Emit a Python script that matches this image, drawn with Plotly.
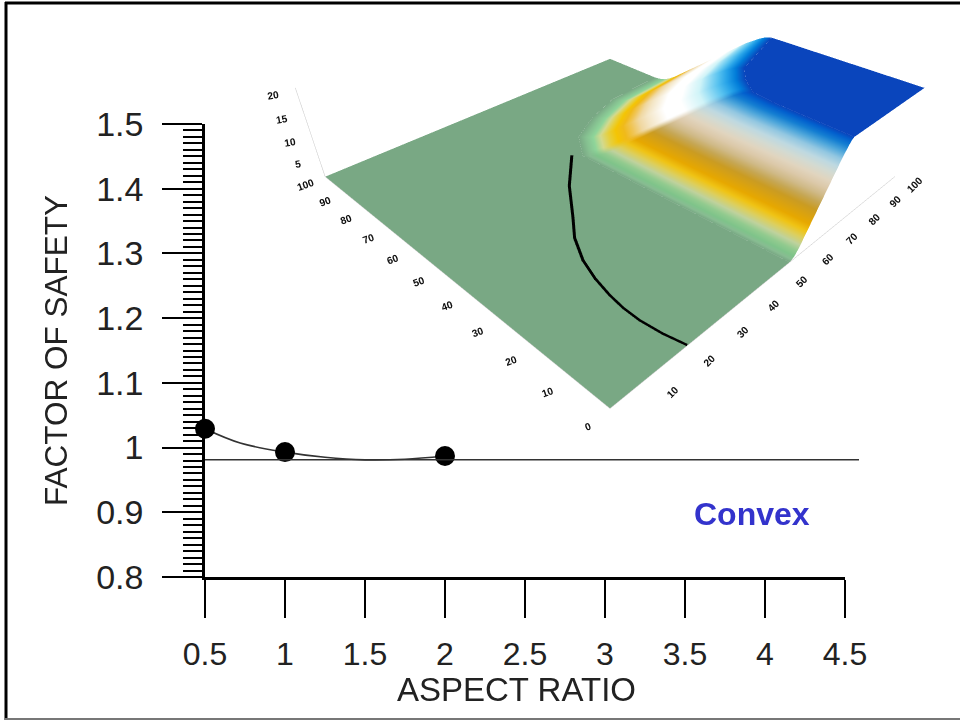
import numpy as np
import plotly.graph_objects as go

# --- 2D chart data
aspect_pts = [0.5, 1, 2]
fos_pts = [1.029, 0.993, 0.987]
curve_x = [0.5, 0.72, 1, 1.25, 1.5, 1.75, 2]
curve_y = [1.029, 1.007, 0.993, 0.985, 0.981, 0.982, 0.987]
ref_x = [0.5, 4.5875]
ref_y = [0.981, 0.981]
x_ticks = [0.5, 1, 1.5, 2, 2.5, 3, 3.5, 4, 4.5]
x_labels = ["0.5", "1", "1.5", "2", "2.5", "3", "3.5", "4", "4.5"]
y_ticks = [0.8, 0.9, 1, 1.1, 1.2, 1.3, 1.4, 1.5]
y_labels = ["0.8", "0.9", "1", "1.1", "1.2", "1.3", "1.4", "1.5"]
scene_x_ticks = [10, 20, 30, 40, 50, 60, 70, 80, 90, 100]
scene_y_ticks = [0, 10, 20, 30, 40, 50, 60, 70, 80, 90, 100]
scene_z_ticks = [5, 10, 15, 20]

# --- 3D surface: contours, by station along the ramp
outer_x = [0, 0, 0, 0, 25, 50, 75, 100]
outer_y = [0, 20, 50, 100, 100, 100, 100, 100]
base_x = [53.5, 53, 52.5, 52, 58, 68, 80, 100]
base_y = [0, 20, 40, 62, 70, 75, 79, 80]
top_x = [69, 69.5, 70, 71, 75, 80, 90, 100]
top_y = [0, 10, 20, 26, 31, 35, 38, 41]
edge_x = [100, 100, 100, 100, 100, 100, 100, 100]
edge_y = [0, 10, 25, 30, 33, 37, 39, 41]
ramp_frac = [.05 * i for i in range(21)]
ramp_z = [0, .2, .6, 1.4, 2.4, 3.6, 4.8, 6, 7.2, 8.4, 9.6, 10.8, 12, 13.2, 14.4, 15.6, 16.8, 17.8, 18.8, 19.6, 20]
path_x = [20, 19, 18.5, 18.7, 19.4, 20.8, 23, 27, 32, 36, 40, 45, 50]
path_y = [0, 5, 10.5, 15, 19.4, 25, 31, 38, 44, 49, 54, 59, 64]
path_z = [0.1] * 13

# colour bands across the ramp, base (0) to top (1)
front_pos = [0, .03, .07, .125, .17, .21, .29, .35, .47, .52, .58, .64, .72, .76, .82, .88, .94, .98, 1]
front_col = ["#79a884", "#8fb898", "#82c08c", "#7dc88a", "#a4cf94", "#c8d4a0", "#f2ca1a", "#e8a800", "#c49a2a",
             "#c8b070", "#d8c4a0", "#e4d4bc", "#d0dcd8", "#b8d8e4", "#80c0e0", "#2090d8", "#0060c8", "#0a60e0", "#0a45bc"]
corner_pos = [0, .04, .1, .14, .24, .31, .41, .55, .65, .75, .86, .94, 1]
corner_col = ["#79a884", "#85bd90", "#8fd59a", "#d0dca0", "#f5c800", "#f0b820", "#f0dcb0", "#ffffff", "#ffffff",
              "#d0f4f8", "#50c0f0", "#0088e0", "#0a45bc"]
ground_col = "#79a884"
plateau_col = "#0a45bc"
blend_st = [0, 3, 3.3, 7]
blend_w = [0, 0, 1, 1]

def rgb(h):
    return [int(h[i:i + 2], 16) for i in (1, 3, 5)]
def band(pos, cols, f):
    c = np.array([rgb(h) for h in cols], float)
    return np.array([np.interp(f, pos, c[:, k]) for k in range(3)])

st = np.arange(len(base_x))
fine = np.linspace(0, len(base_x) - 1, 85)
def res(a):
    return np.interp(fine, st, a)
ox, oy, bx, by, tx, ty, ex, ey = map(res, (outer_x, outer_y, base_x, base_y, top_x, top_y, edge_x, edge_y))
X = np.array([ox] + [bx + f * (tx - bx) for f in ramp_frac] + [ex])
Y = np.array([oy] + [by + f * (ty - by) for f in ramp_frac] + [ey])
Z = np.array([0 * ox] + [np.full_like(bx, z) for z in ramp_z] + [np.full_like(bx, 20.0)])
w = np.interp(fine, blend_st, blend_w)
C = np.zeros(X.shape + (3,))
C[0] = rgb(ground_col)
C[-1] = rgb(plateau_col)
for r, f in enumerate(ramp_frac):
    C[r + 1] = np.outer(1 - w, band(front_pos, front_col, f)) + np.outer(w, band(corner_pos, corner_col, f))
vcol = ["rgb(%d,%d,%d)" % tuple(v) for v in C.reshape(-1, 3)]
nr, nc = X.shape
idx = np.arange(nr * nc).reshape(nr, nc)
I = np.concatenate([idx[:-1, :-1].ravel(), idx[1:, :-1].ravel()])
J = np.concatenate([idx[:-1, 1:].ravel(), idx[:-1, 1:].ravel()])
K = np.concatenate([idx[1:, :-1].ravel(), idx[1:, 1:].ravel()])

fig = go.Figure()
fig.add_trace(go.Scatter(x=curve_x, y=curve_y, mode="lines", line=dict(color="#333333", width=1.6, shape="spline"),
                         cliponaxis=False, showlegend=False))
fig.add_trace(go.Scatter(x=aspect_pts, y=fos_pts, mode="markers", marker=dict(color="black", size=20),
                         cliponaxis=False, showlegend=False))
fig.add_trace(go.Mesh3d(x=X.ravel(), y=Y.ravel(), z=Z.ravel(), i=I, j=J, k=K, vertexcolor=vcol, flatshading=False,
                        lighting=dict(ambient=1, diffuse=0, specular=0, fresnel=0, roughness=1), showscale=False))
fig.add_trace(go.Scatter3d(x=path_x, y=path_y, z=path_z, mode="lines", line=dict(color="black", width=6), showlegend=False))

ax3 = dict(showbackground=False, showgrid=False, zeroline=False, showspikes=False, title=dict(text=""),
           showline=True, linecolor="#c8c8c8", linewidth=1, ticks="outside", tickcolor="#c8c8c8", ticklen=0,
           tickfont=dict(family="Liberation Sans", size=11, color="#111111", weight=700))
to_paper_x = lambda v: (205 + (v - 0.5) * 160) / 960
font_main = "Liberation Sans"
fig.update_layout(
    width=960, height=720, margin=dict(l=0, r=0, t=0, b=0), paper_bgcolor="white", plot_bgcolor="white",
    showlegend=False,
    xaxis=dict(domain=[205 / 960, 845 / 960], range=[0.5, 4.5], tickvals=x_ticks, ticktext=x_labels, ticks="outside",
               ticklen=38, tickwidth=2, tickcolor="black", showgrid=False, zeroline=False, showline=True, automargin=False,
               linecolor="black", linewidth=2.5, ticklabelstandoff=9,
               tickfont=dict(family=font_main, size=32, color="#222222")),
    yaxis=dict(domain=[1 - 577 / 720, 1 - 124 / 720], range=[0.8, 1.5], tickvals=y_ticks, ticktext=y_labels, ticks="outside",
               ticklen=40, tickwidth=2, tickcolor="black", showgrid=False, zeroline=False, showline=True, automargin=False,
               linecolor="black", linewidth=2.5, ticklabelstandoff=12,
               minor=dict(dtick=0.01, ticks="outside", ticklen=19, tickwidth=2.3, tickcolor="black", showgrid=False),
               tickfont=dict(family=font_main, size=34, color="#222222"),
               title=dict(text="FACTOR OF SAFETY", font=dict(family=font_main, size=31.5, color="#222222"), standoff=20)),
    scene=dict(domain=dict(x=[260 / 960, 960 / 960], y=[1 - 545 / 720, 1]),
               xaxis=dict(ax3, range=[0, 100], tickvals=scene_x_ticks, tickangle=-45),
               yaxis=dict(ax3, range=[0, 100], tickvals=scene_y_ticks, tickangle=-20),
               zaxis=dict(ax3, range=[0, 20], tickvals=scene_z_ticks, tickangle=-10),
               aspectmode="manual", aspectratio=dict(x=1, y=1, z=0.235), bgcolor="rgba(0,0,0,0)",
               camera=dict(projection=dict(type="perspective"), up=dict(x=0, y=0, z=1),
                           center=dict(x=-0.2556, y=-0.2556, z=-0.1175), eye=dict(x=-0.98, y=-0.98, z=0.7785))),
    annotations=[dict(text="<b>Convex</b>", x=3.92, y=0.9, xref="x", yref="y", showarrow=False, yshift=-2,
                      font=dict(family=font_main, size=32, color="#3333cc")),
                 dict(text="ASPECT RATIO", x=516 / 960, y=1 - 689 / 720, xref="paper", yref="paper", showarrow=False,
                      xanchor="center", yanchor="middle",
                      font=dict(family=font_main, size=33, color="#222222"))],
    shapes=[dict(type="line", xref="paper", yref="y", x0=to_paper_x(ref_x[0]), x1=to_paper_x(ref_x[1]),
                 y0=ref_y[0], y1=ref_y[1], line=dict(color="#333333", width=1.5)),
            dict(type="line", xref="paper", yref="paper", x0=5 / 960, x1=1, y0=717 / 720, y1=717 / 720,
                 line=dict(color="black", width=3), layer="above"),
            dict(type="line", xref="paper", yref="paper", x0=6 / 960, x1=6 / 960, y0=0, y1=718 / 720,
                 line=dict(color="black", width=3), layer="above"),
            dict(type="line", xref="paper", yref="paper", x0=5 / 960, x1=1, y0=1 / 720, y1=1 / 720,
                 line=dict(color="#777777", width=2), layer="above")],
)
fig.write_html("out.html", post_script="document.body.style.margin='0';", config=dict(displayModeBar=False))
